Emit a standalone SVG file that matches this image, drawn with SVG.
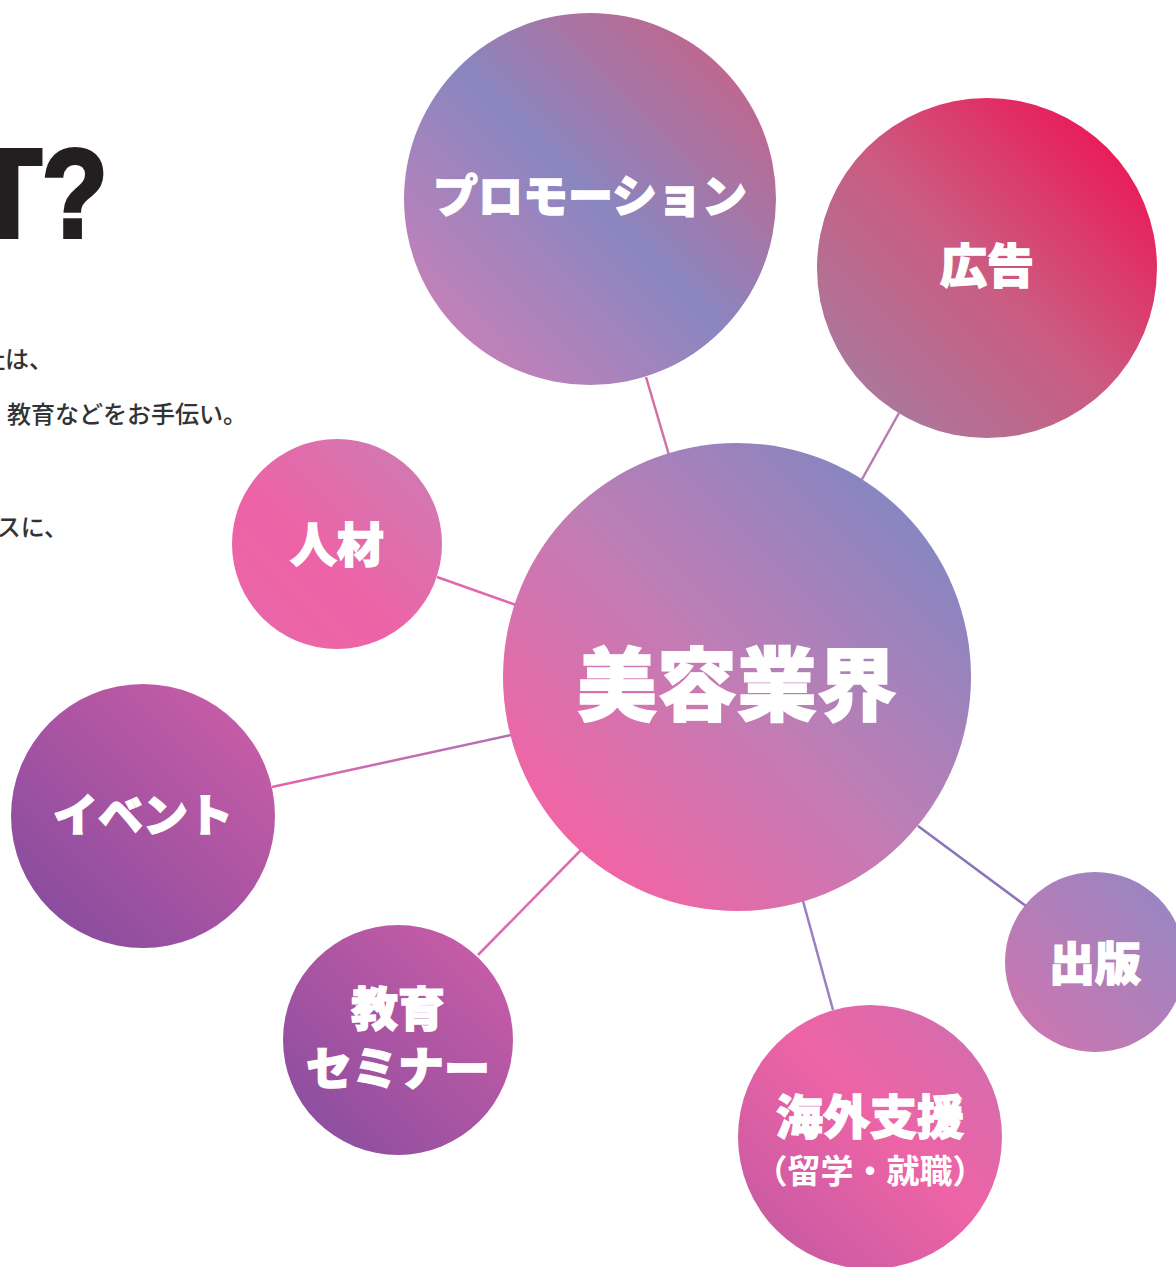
<svg xmlns="http://www.w3.org/2000/svg" width="1176" height="1267" viewBox="0 0 1176 1267">
<style>
.lbl{font-family:"Noto Sans CJK JP","Noto Sans",sans-serif;font-weight:900;fill:#fff;stroke:#fff;stroke-width:1.3;text-anchor:middle}
.sub{font-family:"Noto Sans CJK JP","Noto Sans",sans-serif;font-weight:700;fill:#fff;text-anchor:middle}
.body{font-family:"Noto Sans CJK JP","Noto Sans",sans-serif;font-weight:500;fill:#333;font-size:24px;text-anchor:end}
.con{stroke-width:2.5;fill:none}
</style>
<defs>
<linearGradient id="gCenter" x1="1" y1="0" x2="0" y2="1"><stop offset="0.15" stop-color="#8886c0"/><stop offset="0.5" stop-color="#c07db5"/><stop offset="0.85" stop-color="#f065a5"/></linearGradient>
<linearGradient id="gPromo" x1="1" y1="0" x2="0" y2="1"><stop offset="0.1" stop-color="#c4648a"/><stop offset="0.5" stop-color="#8a86c0"/><stop offset="0.9" stop-color="#c880b8"/></linearGradient>
<linearGradient id="gAd" x1="1" y1="0" x2="0" y2="1"><stop offset="0.1" stop-color="#ec1656"/><stop offset="0.5" stop-color="#cc5a80"/><stop offset="0.9" stop-color="#a87a9e"/></linearGradient>
<linearGradient id="gJin" x1="1" y1="0" x2="0" y2="1"><stop offset="0.1" stop-color="#d07ab2"/><stop offset="0.6" stop-color="#ee62a6"/><stop offset="1" stop-color="#e868a8"/></linearGradient>
<linearGradient id="gEvent" x1="1" y1="0" x2="0" y2="1"><stop offset="0.1" stop-color="#c85ca6"/><stop offset="0.9" stop-color="#884c9e"/></linearGradient>
<linearGradient id="gEdu" x1="1" y1="0" x2="0" y2="1"><stop offset="0.1" stop-color="#c85ca6"/><stop offset="0.9" stop-color="#8c4e9f"/></linearGradient>
<linearGradient id="gAbroad" x1="1" y1="0" x2="0" y2="1"><stop offset="0.05" stop-color="#d06eae"/><stop offset="0.45" stop-color="#ee64a6"/><stop offset="0.9" stop-color="#c85aa2"/></linearGradient>
<linearGradient id="gPub" x1="1" y1="0" x2="0" y2="1"><stop offset="0.1" stop-color="#9886c2"/><stop offset="0.9" stop-color="#cc76b0"/></linearGradient>
<linearGradient id="gLineEvent" x1="0" y1="0" x2="1" y2="0"><stop offset="0" stop-color="#e066ac"/><stop offset="1" stop-color="#b070b4"/></linearGradient>
</defs>
<g id="heading">
<text x="108" y="237" font-family="Liberation Sans,Arial,sans-serif" font-weight="700" font-size="126" fill="#231f20" stroke="#231f20" stroke-width="4" stroke-linejoin="miter" text-anchor="end" transform="translate(108 0) scale(0.86 1) translate(-108 0)">T?</text>
<text class="body" x="53" y="368">社は、</text>
<text class="body" x="247" y="423">教育などをお手伝い。</text>
<text class="body" x="68" y="536">ースに、</text>
</g>
<g id="connectors">
<line class="con" x1="646" y1="377" x2="669" y2="455" stroke="#d070a6"/>
<line class="con" x1="899" y1="413" x2="861" y2="481" stroke="#b87cb0"/>
<line class="con" x1="437" y1="577" x2="516" y2="605" stroke="#e068ae"/>
<line class="con" x1="272" y1="787" x2="511" y2="735" stroke="url(#gLineEvent)"/>
<line class="con" x1="478" y1="955" x2="581" y2="850" stroke="#e06ab0"/>
<line class="con" x1="803" y1="901" x2="833" y2="1010" stroke="#9a80c0"/>
<line class="con" x1="918" y1="826" x2="1026" y2="906" stroke="#8a74ba"/>
</g>
<g id="node-promotion">
<circle cx="590" cy="199" r="186" fill="url(#gPromo)"/>
<text class="lbl" x="590" y="213" font-size="45">プロモーション</text>
</g>
<g id="node-ad">
<circle cx="987" cy="268" r="170" fill="url(#gAd)"/>
<text class="lbl" x="987" y="283" font-size="47">広告</text>
</g>
<g id="node-jinzai">
<circle cx="337" cy="544" r="105" fill="url(#gJin)"/>
<text class="lbl" x="337" y="562" font-size="47">人材</text>
</g>
<g id="node-center">
<circle cx="737" cy="677" r="234" fill="url(#gCenter)"/>
<text class="lbl" x="737" y="714" font-size="80" stroke-width="2">美容業界</text>
</g>
<g id="node-event">
<circle cx="143" cy="816" r="132" fill="url(#gEvent)"/>
<text class="lbl" x="143" y="832" font-size="45">イベント</text>
</g>
<g id="node-education">
<circle cx="398" cy="1040" r="115" fill="url(#gEdu)"/>
<text class="lbl" x="398" y="1026" font-size="47">教育</text>
<text class="lbl" x="398" y="1085" font-size="46">セミナー</text>
</g>
<g id="node-abroad">
<circle cx="870" cy="1137" r="132" fill="url(#gAbroad)"/>
<text class="lbl" x="870" y="1134" font-size="47">海外支援</text>
<text class="sub" x="870" y="1183" font-size="33">（留学・就職）</text>
</g>
<g id="node-publishing">
<circle cx="1095" cy="962" r="90" fill="url(#gPub)"/>
<text class="lbl" x="1095" y="980" font-size="46">出版</text>
</g>
</svg>
